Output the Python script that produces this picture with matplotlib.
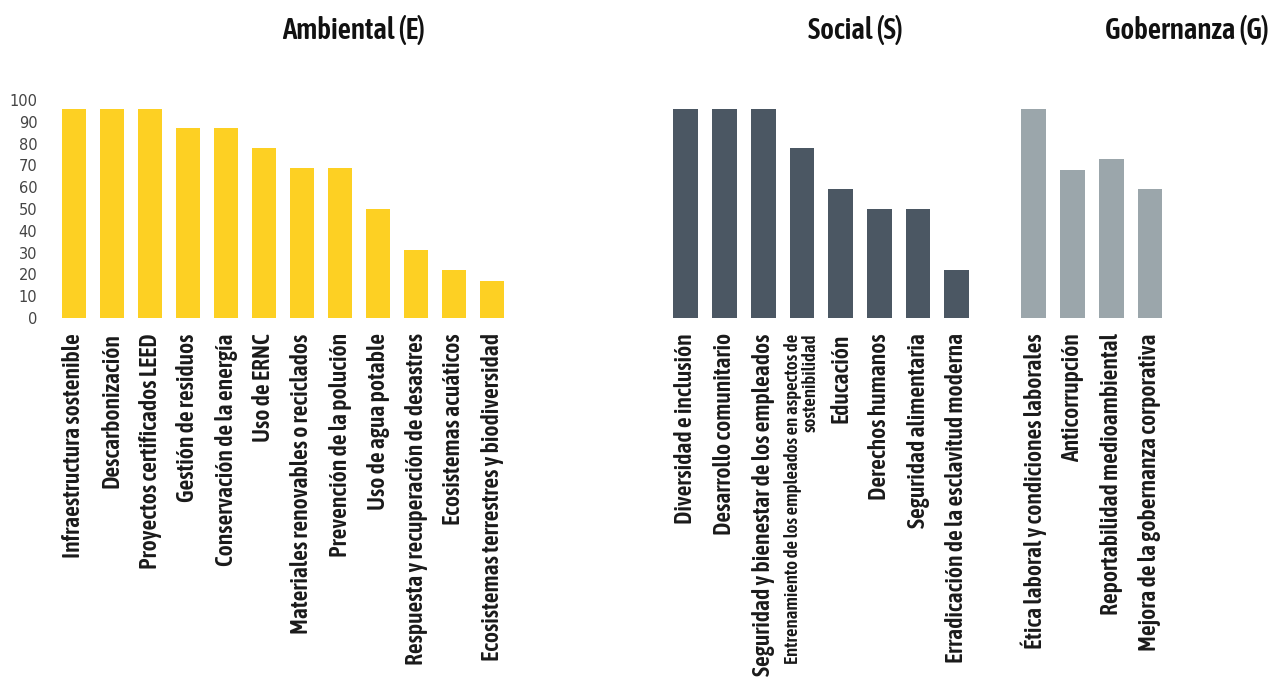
import matplotlib
matplotlib.use("Agg")
import matplotlib.pyplot as plt

# categorías y valores
amb_labels = ["Infraestructura sostenible", "Descarbonización", "Proyectos certificados LEED",
              "Gestión de residuos", "Conservación de la energía", "Uso de ERNC",
              "Materiales renovables o reciclados", "Prevención de la polución",
              "Uso de agua potable", "Respuesta y recuperación de desastres",
              "Ecosistemas acuáticos", "Ecosistemas terrestres y biodiversidad"]
amb_values = [96, 96, 96, 87, 87, 78, 69, 69, 50, 31, 22, 17]

soc_labels = ["Diversidad e inclusión", "Desarrollo comunitario",
              "Seguridad y bienestar de los empleados",
              "Entrenamiento de los empleados en aspectos de\nsostenibilidad",
              "Educación", "Derechos humanos", "Seguridad alimentaria",
              "Erradicación de la esclavitud moderna"]
soc_values = [96, 96, 96, 78, 59, 50, 50, 22]

gob_labels = ["Ética laboral y condiciones laborales", "Anticorrupción",
              "Reportabilidad medioambiental", "Mejora de la gobernanza corporativa"]
gob_values = [96, 68, 73, 59]

titles = ["Ambiental (E)", "Social (S)", "Gobernanza (G)"]
colors = ["#fdd023", "#4b5763", "#9ba6ab"]
yticks = [0, 10, 20, 30, 40, 50, 60, 70, 80, 90, 100]

cond = ["Asap Condensed", "DejaVu Sans"]

W, H = 1269, 677
fig = plt.figure(figsize=(W / 100, H / 100), dpi=100)

# (labels, values, first bar centre px, bar spacing px)
panels = [(amb_labels, amb_values, 74, 38.0),
          (soc_labels, soc_values, 685.8, 38.7),
          (gob_labels, gob_values, 1033.8, 38.7)]
title_x = [354, 855, 1187]

for i, (labs, vals, x0, sp) in enumerate(panels):
    n = len(vals)
    left = x0 - 0.6 * sp
    width = (n - 1 + 1.2) * sp
    ax = fig.add_axes([left / W, 1 - 318 / H, width / W, 218 / H])
    ax.bar(range(n), vals, width=0.64, color=colors[i])
    ax.set_xlim(-0.6, n - 1 + 0.6)
    ax.set_ylim(0, 100)
    for s in ax.spines.values():
        s.set_visible(False)
    ax.set_xticks(range(n))
    fs = 17
    ax.set_xticklabels(labs, rotation=90, family=cond, fontweight=600,
                       fontsize=fs, color="#1a1a1a", va="top", ha="center",
                       multialignment="right", linespacing=0.95)
    # the two-line label is set a bit smaller, as in the original
    for t in ax.get_xticklabels():
        if "\n" in t.get_text():
            t.set_fontsize(13.5)
    ax.tick_params(axis="x", length=0, pad=11)
    if i == 0:
        ax.set_yticks(yticks)
        ax.tick_params(axis="y", length=0, labelsize=10.5, labelcolor="#444444", pad=10)
    else:
        ax.set_yticks([])
    fig.text(title_x[i] / W, 1 - 30 / H, titles[i], ha="center", va="center",
             family=cond, fontweight=600, fontsize=21, color="#111111")

fig.savefig("out.png", dpi=100, facecolor="white")
